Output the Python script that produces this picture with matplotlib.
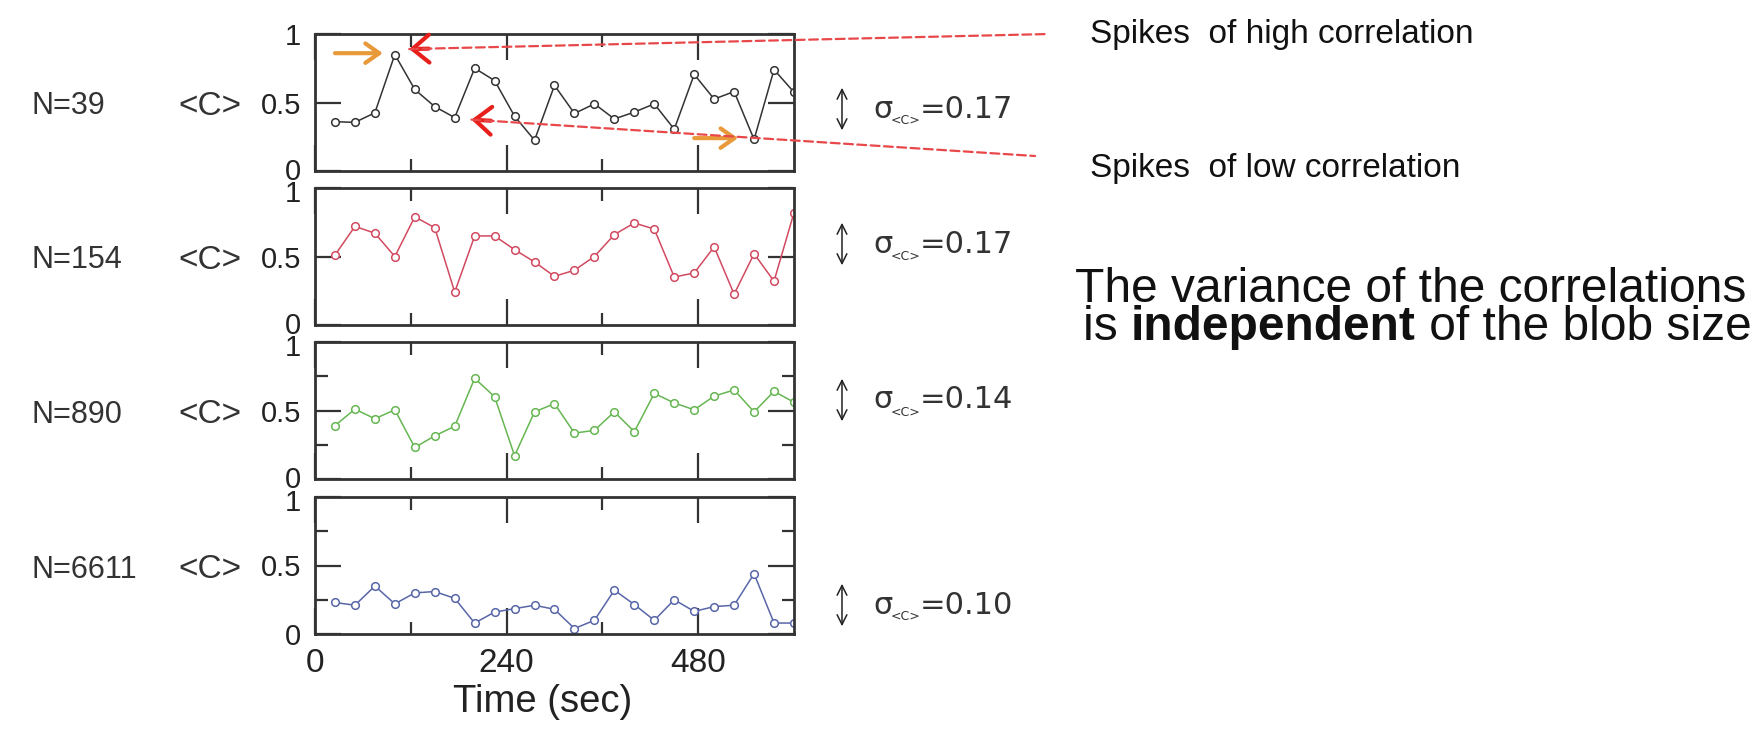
import matplotlib
matplotlib.use('Agg')
import matplotlib.pyplot as plt
import matplotlib.transforms as mtransforms
from matplotlib.patches import ConnectionPatch, FancyArrowPatch

plt.rcParams['font.family'] = ['Liberation Sans', 'DejaVu Sans']

# Daten
time = [25, 50, 75, 100, 125, 150, 175, 200, 225, 250, 275, 300,
        325, 350, 375, 400, 425, 450, 475, 500, 525, 550, 575, 600]
c_39 = [0.36, 0.355, 0.425, 0.85, 0.595, 0.47, 0.39, 0.75, 0.66, 0.40, 0.225, 0.625,
        0.42, 0.49, 0.38, 0.43, 0.49, 0.305, 0.705, 0.525, 0.58, 0.23, 0.74, 0.575]
c_154 = [0.51, 0.72, 0.67, 0.50, 0.79, 0.71, 0.24, 0.65, 0.65, 0.55, 0.46, 0.355,
         0.40, 0.50, 0.66, 0.745, 0.70, 0.35, 0.38, 0.57, 0.225, 0.52, 0.32, 0.82]
c_890 = [0.39, 0.51, 0.44, 0.505, 0.23, 0.315, 0.385, 0.735, 0.60, 0.17, 0.49, 0.55,
         0.335, 0.355, 0.49, 0.345, 0.625, 0.555, 0.505, 0.605, 0.65, 0.49, 0.64, 0.56]
c_6611 = [0.23, 0.21, 0.35, 0.22, 0.30, 0.31, 0.26, 0.08, 0.16, 0.185, 0.21, 0.18,
          0.04, 0.10, 0.32, 0.215, 0.10, 0.25, 0.165, 0.20, 0.21, 0.44, 0.08, 0.08]
series = [c_39, c_154, c_890, c_6611]
sizes = ['N=39', 'N=154', 'N=890', 'N=6611']
sigmas = ['=0.17', '=0.17', '=0.14', '=0.10']
colors = ['#333333', '#d24a60', '#66b652', '#5866a8']

W, H = 1756, 737
fig = plt.figure(figsize=(W / 100, H / 100), dpi=100)


def fx(px):
    return px / W


def fy(py):
    return 1 - py / H


left, right = 315, 794
tops = [34, 188, 342, 497]
ph = 137
sig_y = [109, 244, 400, 605]
dark = '#333333'
wide = ['DejaVu Sans']

axes = []
for i in range(4):
    ax = fig.add_axes([fx(left), fy(tops[i] + ph), (right - left) / W, ph / H])
    ax.plot(time, series[i], '-o', color=colors[i], lw=1.1, ms=5.5,
            mfc='white', mec=colors[i], mew=1.1)
    ax.set_xlim(0, 600)
    ax.set_ylim(0, 1)
    ax.set_xticks([0, 240, 480])
    ax.set_xticks([120, 360], minor=True)
    ax.set_yticks([0, 0.5, 1])
    ax.set_yticklabels(['0', '0.5', '1'])
    if i >= 2:
        ax.set_yticks([0.25, 0.75], minor=True)
    ax.tick_params(which='both', direction='in', top=True, right=True,
                   width=1.6, color=dark, labelcolor='#222222')
    ax.tick_params(which='major', length=19)
    ax.tick_params(which='minor', length=9)
    ax.tick_params(axis='y', labelsize=21, pad=10)
    ax.tick_params(axis='x', pad=10, labelsize=24)
    labs = ax.get_yticklabels()
    # "0" etwas hoch, "1" etwas runter, damit sie sich zwischen den Panels nicht decken
    if i < 3:
        labs[0].set_transform(labs[0].get_transform() +
                              mtransforms.ScaledTranslation(0, 2 / 100, fig.dpi_scale_trans))
    if i > 0:
        labs[2].set_transform(labs[2].get_transform() +
                              mtransforms.ScaledTranslation(0, -3 / 100, fig.dpi_scale_trans))
    for s in ax.spines.values():
        s.set_linewidth(2)
        s.set_color(dark)
    if i < 3:
        ax.set_xticklabels([])
    mid = tops[i] + ph / 2 + 4
    fig.text(fx(31), fy(mid), sizes[i], ha='left', va='center', fontsize=22, color=dark)
    fig.text(fx(242), fy(mid), '<C>', ha='right', va='center', fontsize=24, color=dark)

    # sigma Anmerkung
    y = sig_y[i]
    fig.add_artist(FancyArrowPatch(
        (fx(842), fy(y + 24)), (fx(842), fy(y - 24)), transform=fig.transFigure,
        arrowstyle='<->,head_length=0.5,head_width=0.25', mutation_scale=14,
        color='#222222', lw=1.1))
    fig.text(fx(873), fy(y), 'σ', ha='left', va='center', fontsize=22, color=dark,
             family=wide)
    fig.text(fx(891), fy(y + 12), '<C>', ha='left', va='center', fontsize=9, color=dark,
             family=wide)
    fig.text(fx(920), fy(y), sigmas[i], ha='left', va='center', fontsize=22, color=dark,
             family=wide)
    axes.append(ax)

axes[3].set_xlabel('Time (sec)', fontsize=27.5, labelpad=4, color='#222222')
axes[3].xaxis.label.set_x(0.475)

# Pfeile im ersten Panel
ax1 = axes[0]
red_line = '#e8484a'
for tip, end in [((118, 0.89), (1049, 34)), ((196, 0.375), (1035, 156))]:
    con = ConnectionPatch(xyA=tip, coordsA='data', axesA=ax1,
                          xyB=(end[0], H - end[1]), coordsB='figure pixels',
                          color=red_line, lw=1.6, linestyle=(0, (4, 2)))
    fig.add_artist(con)
    ax1.annotate('', xy=tip, xytext=(14, 0.3 if tip[1] > 0.5 else -0.8),
                 textcoords='offset points',
                 arrowprops=dict(arrowstyle='->,head_length=0.6,head_width=0.5',
                                 color='#e8201c', lw=3, mutation_scale=20,
                                 shrinkA=0, shrinkB=0))

orange = '#e89a3a'
for start, stop in [((25, 0.86), (85, 0.86)), ((475, 0.24), (530, 0.24))]:
    ax1.annotate('', xy=stop, xytext=start,
                 arrowprops=dict(arrowstyle='->,head_length=0.5,head_width=0.35',
                                 color=orange, lw=3, mutation_scale=20,
                                 shrinkA=0, shrinkB=0))

# Text rechts
fig.text(fx(1090), fy(35), 'Spikes  of high correlation', ha='left', va='center',
         fontsize=24, color='#111111')
fig.text(fx(1090), fy(169), 'Spikes  of low correlation', ha='left', va='center',
         fontsize=24, color='#111111')
fig.text(fx(1075), fy(289), 'The variance of the correlations', ha='left', va='center',
         fontsize=34.5, color='#111111')

fig.canvas.draw()
r = fig.canvas.get_renderer()
t1 = fig.text(fx(1083), fy(328), 'is ', ha='left', va='center', fontsize=34.5,
              color='#111111')
bb = t1.get_window_extent(r)
t2 = fig.text(bb.x1 / W, fy(328), 'independent', ha='left', va='center',
              fontsize=34.5, fontweight='bold', color='#111111')
bb = t2.get_window_extent(r)
fig.text(bb.x1 / W, fy(328), ' of the blob size', ha='left', va='center',
         fontsize=34.5, color='#111111')

fig.savefig('out.png', dpi=100)
